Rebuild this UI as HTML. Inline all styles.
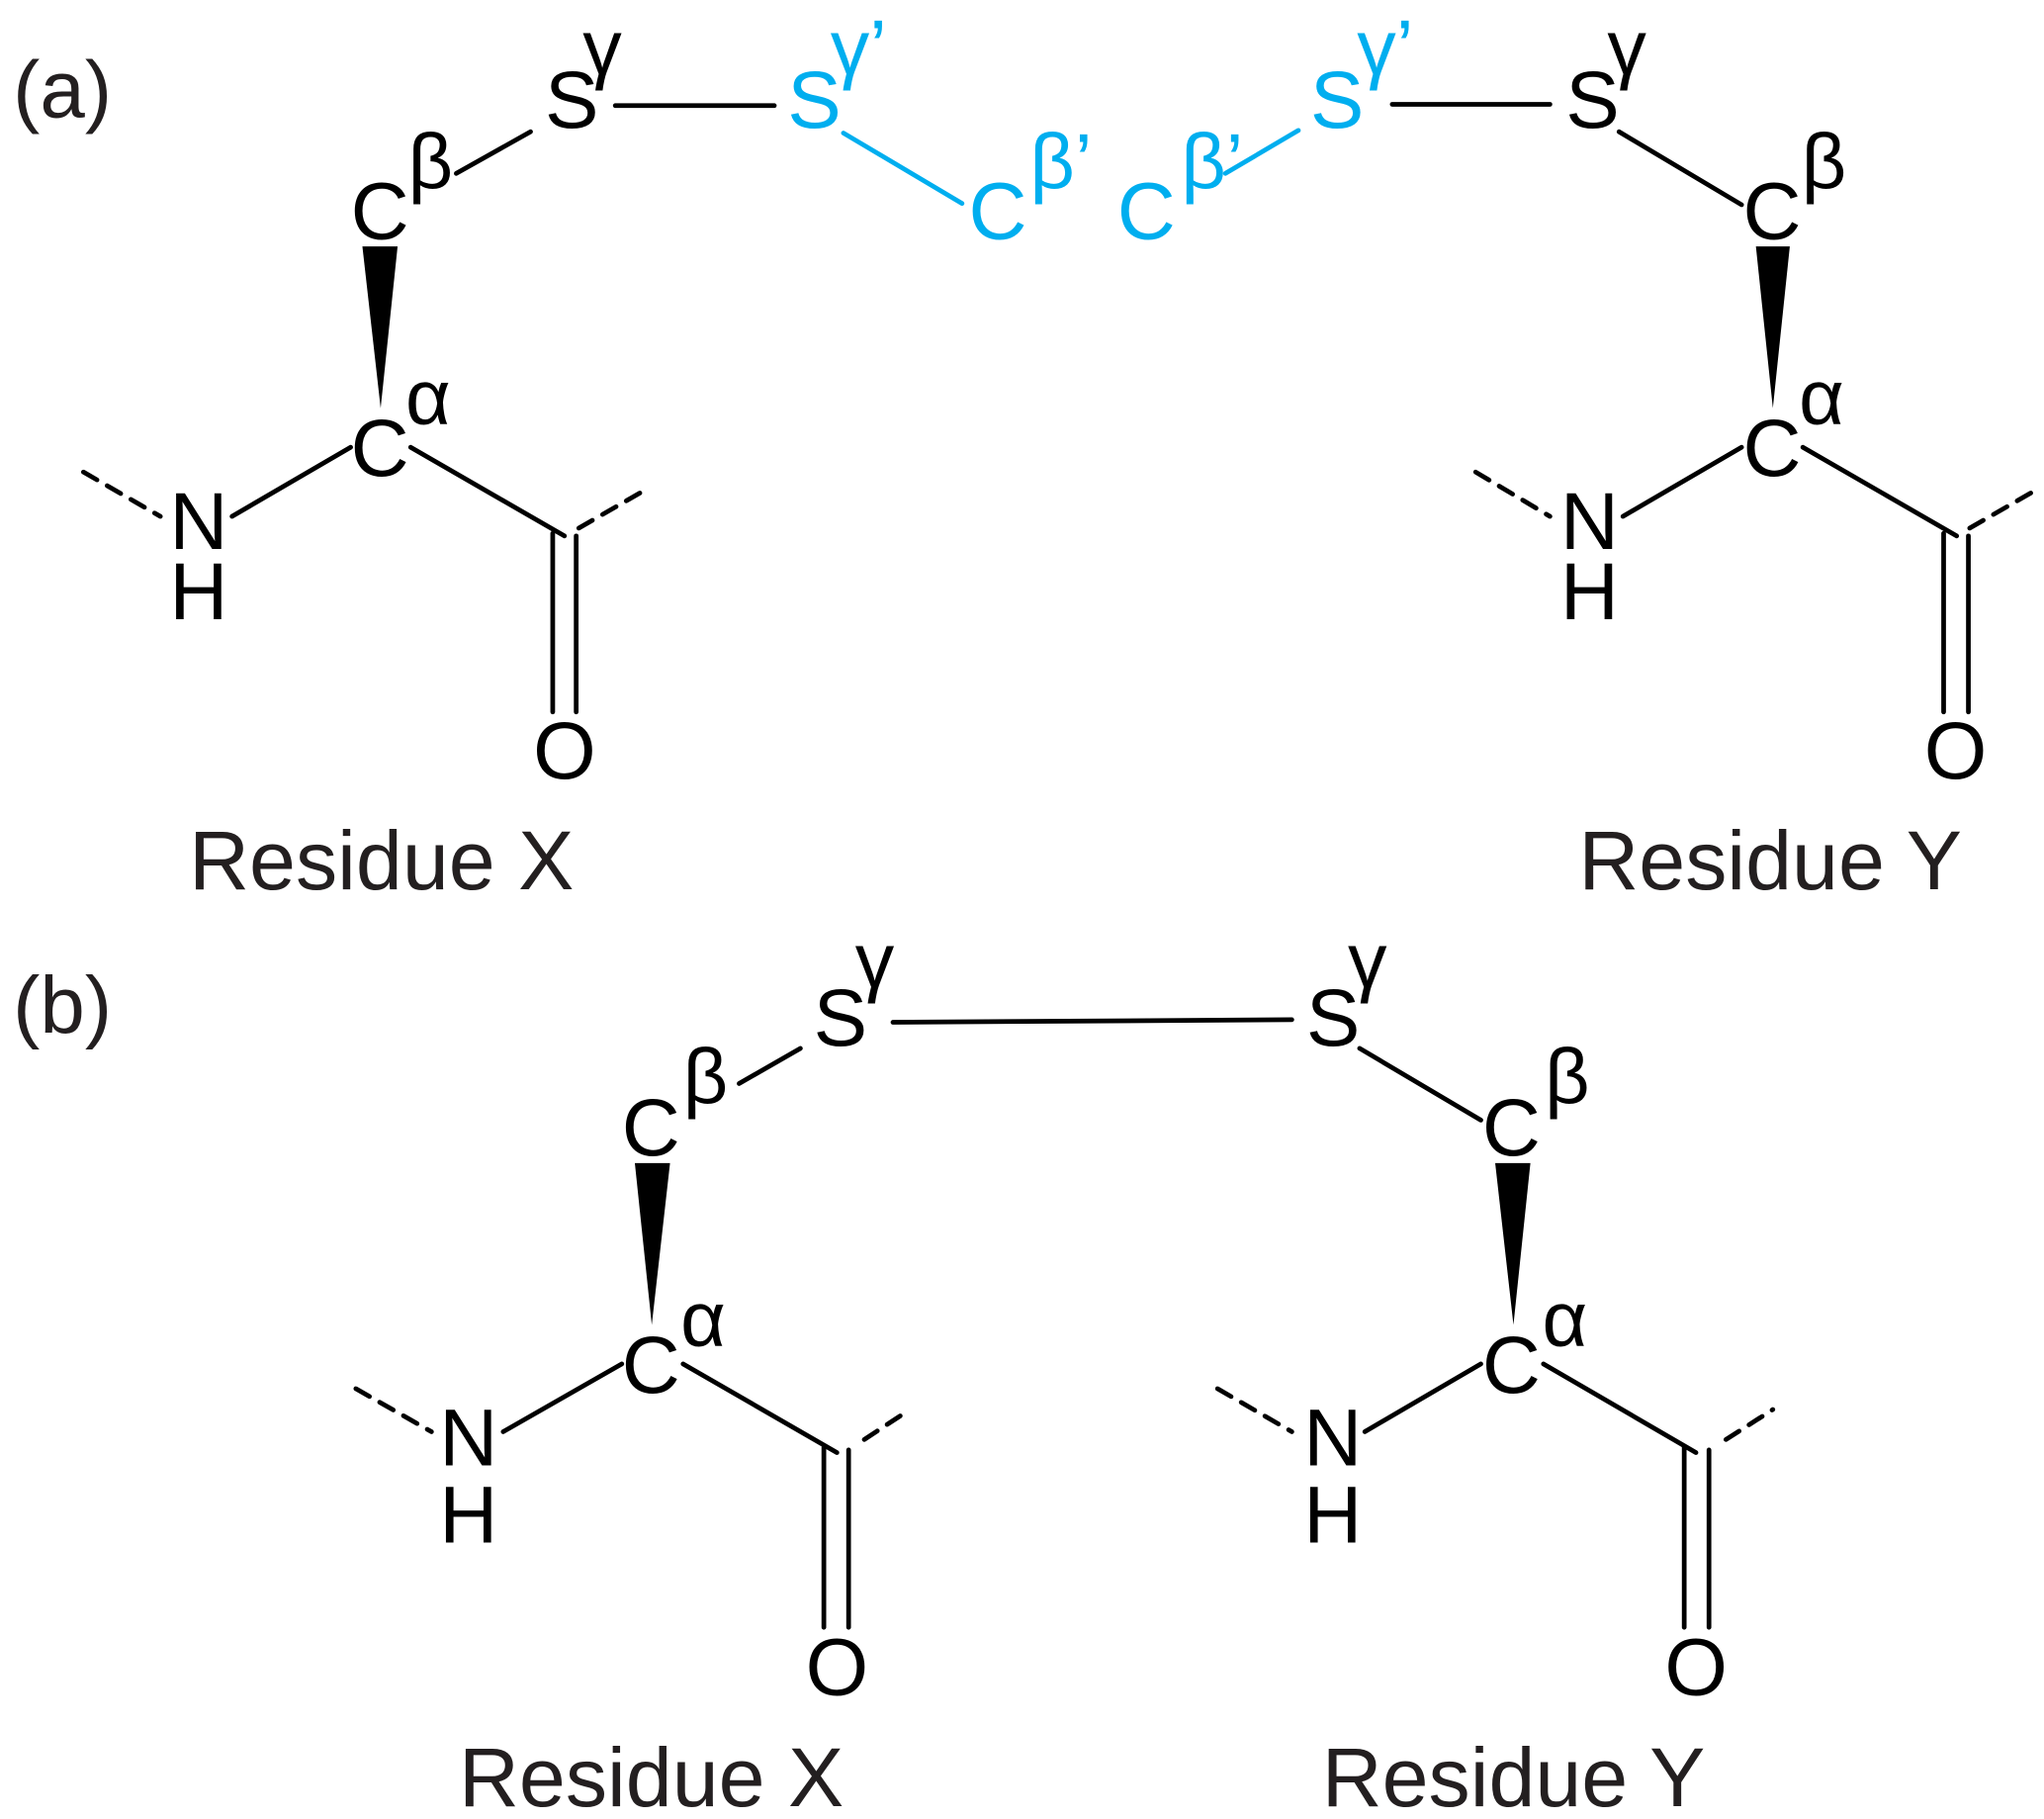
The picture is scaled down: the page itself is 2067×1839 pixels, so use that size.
<!DOCTYPE html>
<html><head><meta charset="utf-8"><style>
html,body{margin:0;padding:0;background:#fff;}
svg{display:block;}
text{font-family:"Liberation Sans",Arial,sans-serif;}
</style></head><body>
<svg width="2067" height="1839" viewBox="0 0 1568 1395" xmlns="http://www.w3.org/2000/svg">
<g font-size="62" fill="#111">
<text x="10" y="90" fill="#231f20">(a)</text>
<text x="10" y="792" fill="#231f20">(b)</text>
</g>
<g stroke="#000" stroke-width="3.6" fill="none" stroke-linecap="round">
<line x1="350" y1="133" x2="407" y2="101"/>
<line x1="472" y1="81" x2="594" y2="81"/>
<line x1="178" y1="396" x2="269" y2="343"/>
<polyline points="315,343 433,411"/>
<line x1="64" y1="362" x2="123" y2="396" stroke-dasharray="12,9"/>
<line x1="444" y1="405" x2="491" y2="378" stroke-dasharray="12,9"/>
<line x1="424" y1="409" x2="424" y2="546"/>
<line x1="442" y1="411" x2="442" y2="546"/>
<line x1="1068" y1="80" x2="1189" y2="80"/>
<line x1="1242" y1="101" x2="1336" y2="157"/>
<line x1="1245" y1="396" x2="1336" y2="343"/>
<line x1="1383" y1="343" x2="1501" y2="411"/>
<line x1="1132" y1="362" x2="1189" y2="396" stroke-dasharray="12,9"/>
<line x1="1511" y1="405" x2="1558" y2="378" stroke-dasharray="12,9"/>
<line x1="1491" y1="409" x2="1491" y2="546"/>
<line x1="1510" y1="411" x2="1510" y2="546"/>
<line x1="567" y1="831" x2="614" y2="804"/>
<line x1="685" y1="784" x2="991" y2="782"/>
<line x1="1043" y1="804" x2="1136" y2="859"/>
<line x1="386" y1="1098" x2="477" y2="1046"/>
<line x1="524" y1="1046" x2="642" y2="1114"/>
<line x1="273" y1="1065" x2="331" y2="1098" stroke-dasharray="12,9"/>
<line x1="663" y1="1104" x2="698" y2="1081" stroke-dasharray="12,9"/>
<line x1="632" y1="1110" x2="632" y2="1248"/>
<line x1="651" y1="1112" x2="651" y2="1248"/>
<line x1="1047" y1="1098" x2="1136" y2="1046"/>
<line x1="1184" y1="1046" x2="1301" y2="1114"/>
<line x1="934" y1="1065" x2="991" y2="1098" stroke-dasharray="12,9"/>
<line x1="1324" y1="1104" x2="1360" y2="1081" stroke-dasharray="12,9"/>
<line x1="1292" y1="1110" x2="1292" y2="1248"/>
<line x1="1311" y1="1112" x2="1311" y2="1248"/>
</g>
<g stroke="#00aeef" stroke-width="3.6" stroke-linecap="round">
<line x1="647" y1="102" x2="738" y2="156"/>
<line x1="940" y1="133" x2="996" y2="100"/>
</g>
<g fill="#000">
<polygon points="278,189 305,189 292,313"/>
<polygon points="1347,189 1373,189 1360,313"/>
<polygon points="487,892 514,892 500,1016"/>
<polygon points="1147,892 1174,892 1161,1016"/>
</g>
<g font-size="62" fill="#000">
<text x="418" y="98">S</text><text x="447" y="57" font-size="60">γ</text>
<text x="269" y="183">C</text><text x="313" y="144" font-size="60">β</text>
<text x="269" y="365">C</text><text x="311" y="325" font-size="60">α</text>
<text x="130" y="421">N</text><text x="130" y="475">H</text>
<text x="409" y="597">O</text>
<text x="145" y="682" font-size="64" fill="#231f20">Residue X</text>
<text x="1201" y="98">S</text><text x="1233" y="57" font-size="60">γ</text>
<text x="1337" y="183">C</text><text x="1382" y="144" font-size="60">β</text>
<text x="1337" y="365">C</text><text x="1380" y="325" font-size="60">α</text>
<text x="1197" y="421">N</text><text x="1197" y="475">H</text>
<text x="1476" y="597">O</text>
<text x="1211" y="682" font-size="64" fill="#231f20">Residue Y</text>
<text x="624" y="802">S</text><text x="656" y="757" font-size="60">γ</text>
<text x="477" y="886">C</text><text x="524" y="846" font-size="60">β</text>
<text x="477" y="1068">C</text><text x="522" y="1032" font-size="60">α</text>
<text x="337" y="1124">N</text><text x="337" y="1183">H</text>
<text x="618" y="1300">O</text>
<text x="352" y="1385" font-size="64" fill="#231f20">Residue X</text>
<text x="1002" y="802">S</text><text x="1034" y="757" font-size="60">γ</text>
<text x="1137" y="886">C</text><text x="1185" y="846" font-size="60">β</text>
<text x="1137" y="1068">C</text><text x="1183" y="1032" font-size="60">α</text>
<text x="1000" y="1124">N</text><text x="1000" y="1183">H</text>
<text x="1277" y="1300">O</text>
<text x="1014" y="1385" font-size="64" fill="#231f20">Residue Y</text>
</g>
<g font-size="62" fill="#00aeef">
<text x="604" y="98">S</text><text x="637" y="57" font-size="60">γ’</text>
<text x="743" y="183">C</text><text x="790" y="144" font-size="60">β’</text>
<text x="857" y="183">C</text><text x="906" y="144" font-size="60">β’</text>
<text x="1005" y="98">S</text><text x="1041" y="57" font-size="60">γ’</text>
</g>
</svg>
</body></html>
